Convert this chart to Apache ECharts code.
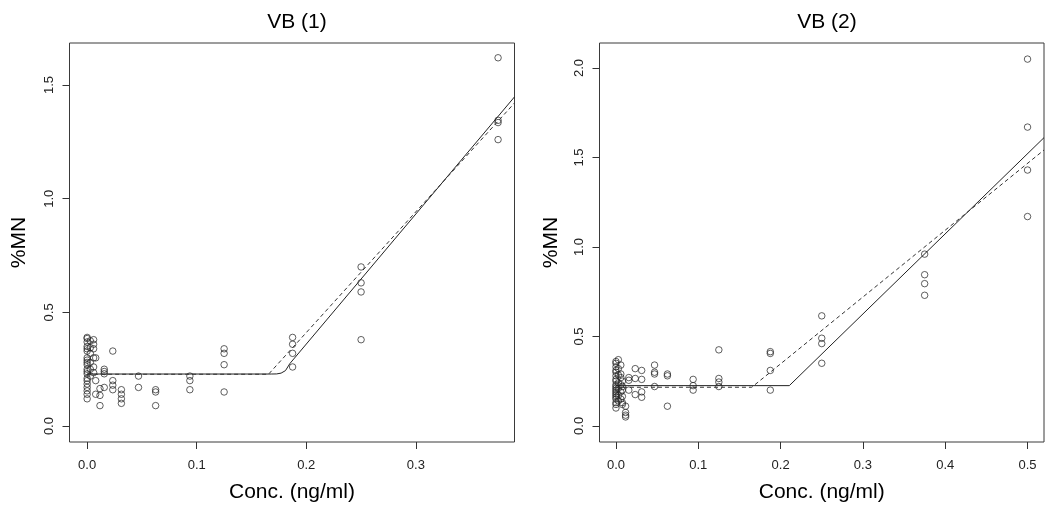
<!DOCTYPE html>
<html>
<head>
<meta charset="utf-8">
<script src="https://cdn.jsdelivr.net/npm/echarts@6/dist/echarts.min.js"></script>
<style>
html,body{margin:0;padding:0;background:#fff;}
#c{width:1050px;height:515px;}
</style>
</head>
<body>
<div id="c"></div>
<script>
// ---------- data: panel VB (1) ----------
const conc1 = [0, 0.0029, 0.0059, 0.0078, 0.0117, 0.0156, 0.0234, 0.03125, 0.046875, 0.0625, 0.09375, 0.125, 0.1875, 0.25, 0.375];
const mn1 = [
  [0.39, 0.385, 0.37, 0.35, 0.34, 0.33, 0.30, 0.29, 0.28, 0.27, 0.25, 0.24, 0.23, 0.21, 0.20, 0.185, 0.17, 0.155, 0.14, 0.12],
  [0.375, 0.345, 0.32, 0.28, 0.25, 0.22],
  [0.38, 0.36, 0.34, 0.30, 0.26, 0.235],
  [0.30, 0.20, 0.14],
  [0.165, 0.135, 0.09],
  [0.25, 0.24, 0.23, 0.17],
  [0.33, 0.20, 0.18, 0.16],
  [0.16, 0.14, 0.12, 0.10],
  [0.22, 0.17],
  [0.16, 0.15, 0.09],
  [0.22, 0.20, 0.16],
  [0.34, 0.32, 0.27, 0.15],
  [0.39, 0.36, 0.32, 0.26],
  [0.70, 0.63, 0.59, 0.38],
  [1.62, 1.345, 1.335, 1.26]
];
const fitSolid1X = [0, 0.168, 0.173, 0.177, 0.181, 0.185, 0.39];
const fitSolid1Y = [0.229, 0.229, 0.2295, 0.233, 0.244, 0.275, 1.448];
const fitDash1X = [0, 0.1655, 0.39];
const fitDash1Y = [0.228, 0.228, 1.421];

// ---------- data: panel VB (2) ----------
const conc2 = [0, 0.0029, 0.0059, 0.0078, 0.0117, 0.0156, 0.0234, 0.03125, 0.046875, 0.0625, 0.09375, 0.125, 0.1875, 0.25, 0.375, 0.5];
const mn2 = [
  [0.36, 0.35, 0.33, 0.31, 0.30, 0.28, 0.26, 0.25, 0.23, 0.22, 0.21, 0.20, 0.19, 0.18, 0.17, 0.16, 0.15, 0.13, 0.12, 0.10],
  [0.37, 0.32, 0.285, 0.24, 0.21, 0.17, 0.14],
  [0.34, 0.29, 0.27, 0.23, 0.19, 0.15],
  [0.25, 0.22, 0.20, 0.165, 0.13, 0.12],
  [0.11, 0.075, 0.06, 0.05],
  [0.27, 0.255, 0.20],
  [0.32, 0.265, 0.175],
  [0.31, 0.26, 0.19, 0.16],
  [0.34, 0.30, 0.29, 0.22],
  [0.29, 0.28, 0.11],
  [0.26, 0.225, 0.20],
  [0.425, 0.265, 0.245, 0.22],
  [0.415, 0.405, 0.31, 0.20],
  [0.615, 0.49, 0.46, 0.35],
  [0.96, 0.845, 0.795, 0.73],
  [2.05, 1.67, 1.43, 1.17]
];
const fitSolid2X = [0, 0.2106, 0.52];
const fitSolid2Y = [0.225, 0.225, 1.611];
const fitDash2X = [0, 0.165, 0.52];
const fitDash2Y = [0.216, 0.216, 1.542];

// ---------- axes / labels ----------
const titles = ['VB (1)', 'VB (2)'];
const xName = 'Conc. (ng/ml)';
const yName = '%MN';
const xTicks1 = [0, 0.1, 0.2, 0.3];
const yTicks1 = [0, 0.5, 1.0, 1.5];
const xTicks2 = [0, 0.1, 0.2, 0.3, 0.4, 0.5];
const yTicks2 = [0, 0.5, 1.0, 1.5, 2.0];

// ---------- build ----------
const pts = (xs, groups) => xs.flatMap((x, i) => groups[i].map(y => [x, y]));
const pairs = (xs, ys) => xs.map((x, i) => [x, ys[i]]);

const FONT = 'Liberation Sans, Arial, sans-serif';
const INK = '#333';

function xAxis(idx, min, max, ticks) {
  return {
    type: 'value', gridIndex: idx, min: min, max: max,
    name: xName, nameLocation: 'middle', nameGap: 40,
    nameTextStyle: {fontFamily: FONT, fontSize: 21, color: '#000'},
    axisLine: {show: false, onZero: false},
    splitLine: {show: false},
    axisTick: {show: true, inside: false, length: 7, customValues: ticks, lineStyle: {color: INK, width: 1}},
    axisLabel: {customValues: ticks, margin: 17, fontFamily: FONT, fontSize: 13, color: '#222',
      formatter: v => Number(v).toFixed(1)}
  };
}
function yAxis(idx, min, max, ticks, gap) {
  return {
    type: 'value', gridIndex: idx, min: min, max: max,
    name: yName, nameLocation: 'middle', nameGap: gap, nameRotate: 90,
    nameTextStyle: {fontFamily: FONT, fontSize: 21, color: '#000'},
    axisLine: {show: false, onZero: false},
    splitLine: {show: false},
    axisTick: {show: true, inside: false, length: 7, customValues: ticks, lineStyle: {color: INK, width: 1}},
    axisLabel: {customValues: ticks, rotate: 90, margin: 14, fontFamily: FONT, fontSize: 13, color: '#222',
      formatter: v => Number(v).toFixed(1)}
  };
}

const scatterStyle = {color: 'rgba(255,255,255,0)', borderColor: '#222', borderWidth: 0.9};

const option = {
  backgroundColor: '#fff',
  animation: false,
  title: [
    {text: titles[0], left: 292, top: 7, textAlign: 'center', textStyle: {fontFamily: FONT, fontSize: 21, fontWeight: 'normal', color: '#000'}},
    {text: titles[1], left: 822, top: 7, textAlign: 'center', textStyle: {fontFamily: FONT, fontSize: 21, fontWeight: 'normal', color: '#000'}}
  ],
  grid: [
    {left: 69.5, top: 43, width: 445, height: 399, show: true, borderColor: '#3a3a3a', borderWidth: 1, backgroundColor: 'transparent'},
    {left: 599.5, top: 43, width: 444.5, height: 399, show: true, borderColor: '#3a3a3a', borderWidth: 1, backgroundColor: 'transparent'}
  ],
  xAxis: [xAxis(0, -0.0161, 0.39, xTicks1), xAxis(1, -0.02, 0.52, xTicks2)],
  yAxis: [yAxis(0, -0.07, 1.685, yTicks1, 40), yAxis(1, -0.09, 2.14, yTicks2, 38)],
  series: [
    {type: 'scatter', xAxisIndex: 0, yAxisIndex: 0, data: pts(conc1, mn1), symbol: 'circle', symbolSize: 6.5, itemStyle: scatterStyle},
    {type: 'line', xAxisIndex: 0, yAxisIndex: 0, data: pairs(fitSolid1X, fitSolid1Y), showSymbol: false, smooth: false,
      lineStyle: {color: '#222', width: 1, type: 'solid'}},
    {type: 'line', xAxisIndex: 0, yAxisIndex: 0, data: pairs(fitDash1X, fitDash1Y), showSymbol: false,
      lineStyle: {color: '#333', width: 1, type: [4, 3]}},
    {type: 'scatter', xAxisIndex: 1, yAxisIndex: 1, data: pts(conc2, mn2), symbol: 'circle', symbolSize: 6.5, itemStyle: scatterStyle},
    {type: 'line', xAxisIndex: 1, yAxisIndex: 1, data: pairs(fitSolid2X, fitSolid2Y), showSymbol: false,
      lineStyle: {color: '#222', width: 1, type: 'solid'}},
    {type: 'line', xAxisIndex: 1, yAxisIndex: 1, data: pairs(fitDash2X, fitDash2Y), showSymbol: false,
      lineStyle: {color: '#333', width: 1, type: [4, 3]}}
  ]
};

const chart = echarts.init(document.getElementById('c'), null, {renderer: 'canvas'});
chart.setOption(option);
</script>
</body>
</html>
